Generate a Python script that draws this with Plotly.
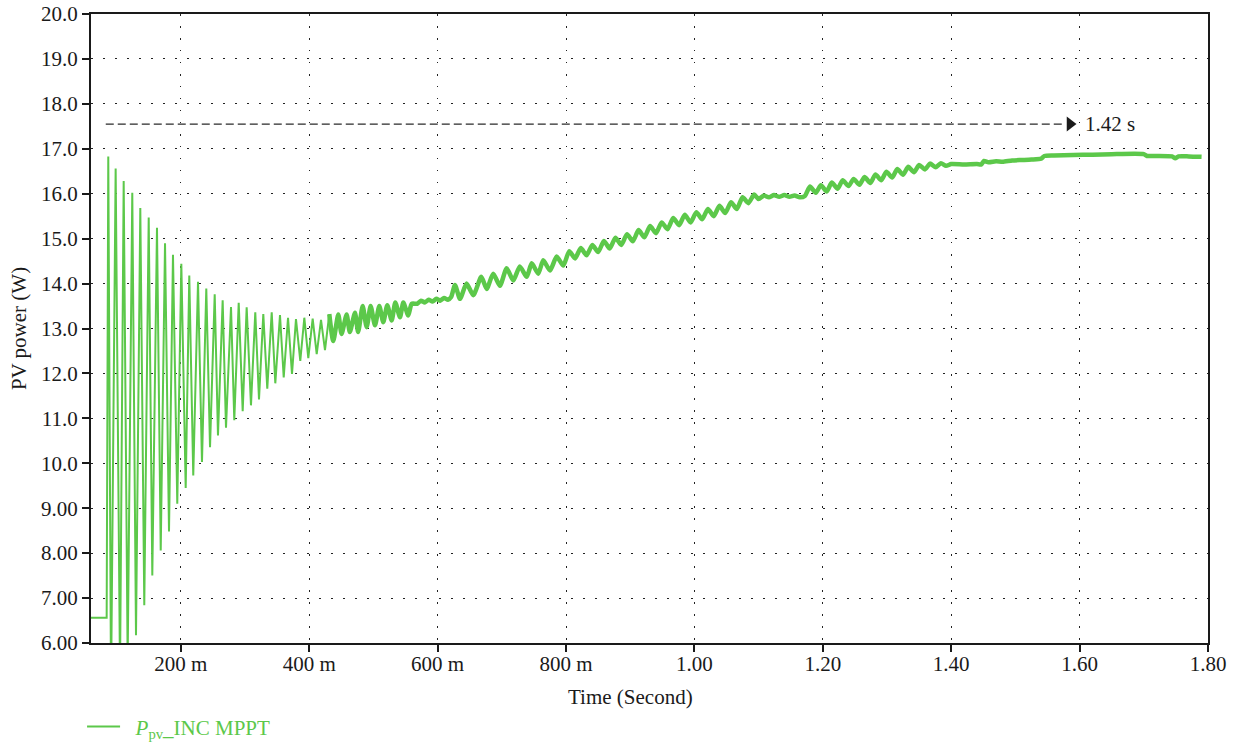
import plotly.graph_objects as go

# ---- PV power trace, INC MPPT (time in ms, power in W) ----
# start-up transient: step then large decaying oscillation (peaks / troughs)
t_start_ms = [60, 84.4, 86.9, 91.2, 98.4, 105.2, 110.9, 117.1, 124.3, 130.1,
              136.8, 143.0, 149.9, 155.5, 162.8, 168.6, 175.3, 181.5, 187.7, 194.4,
              200.7, 207.5, 213.1, 219.3, 226.7, 232.9, 239.6, 245.4, 252.7, 257.8,
              265.1, 270.3, 278.1, 283.2, 290.1, 296.3, 302.5, 309.2, 315.9, 321.7,
              328.4, 334.6, 341.5, 347.1, 354.4, 360.2, 366.9, 373.1, 379.3, 386.0,
              392.3, 398.5, 405.3, 411.6, 418.3, 424.5, 431.2, 437.4]
p_start_w = [6.56, 6.56, 16.83, 5.0, 16.56, 5.3, 16.28, 5.6, 16.02, 6.17,
             15.68, 6.84, 15.47, 7.50, 15.24, 8.06, 14.90, 8.48, 14.64, 9.10,
             14.44, 9.45, 14.18, 9.73, 14.04, 10.03, 13.89, 10.36, 13.76, 10.62,
             13.63, 10.79, 13.48, 10.96, 13.57, 11.16, 13.47, 11.29, 13.36, 11.42,
             13.32, 11.66, 13.36, 11.78, 13.30, 11.91, 13.24, 11.99, 13.21, 12.28,
             13.24, 12.34, 13.22, 12.43, 13.19, 12.52, 13.32, 12.70]

# slow climb towards the maximum power point
t_climb_ms = [431.2, 437.4, 445.2, 450.3, 458.2, 463.2, 471.2, 476.1, 483.2, 489.4,
              495.6, 502.4, 509.1, 515.3, 521.5, 528.4, 534.0, 541.3, 546.5, 554.2,
              559.5, 568, 574, 580, 586, 592, 598, 604, 610, 616,
              621, 627, 634.8, 645, 655.5, 668, 676.4, 686.5, 697, 707.5,
              717.8, 728, 738.7, 746.5, 756.7, 764.5, 775, 785.4, 795.7, 805,
              814, 823, 832, 841, 850, 859, 868, 877, 886, 895,
              904, 913, 922, 931, 940, 949, 958, 967, 976, 985,
              994, 1003, 1012, 1021, 1030, 1039, 1048, 1057, 1066, 1075,
              1084, 1093, 1100, 1108, 1116, 1124, 1132, 1140, 1148, 1156,
              1164, 1172, 1180, 1189, 1197, 1206, 1214, 1223, 1231, 1240,
              1248, 1257, 1265, 1274, 1282, 1291, 1299, 1308, 1316, 1325,
              1333, 1342, 1350, 1359, 1367, 1376, 1384, 1392, 1400, 1420,
              1440, 1447, 1451, 1458, 1470, 1480, 1495, 1510, 1525, 1540,
              1545, 1560, 1590, 1620, 1650, 1700, 1705, 1720, 1744, 1749,
              1754, 1770, 1790]
p_climb_w = [13.32, 12.72, 13.31, 12.88, 13.31, 12.92, 13.35, 12.92, 13.50, 13.03,
             13.50, 13.07, 13.50, 13.14, 13.52, 13.18, 13.58, 13.25, 13.58, 13.29,
             13.55, 13.55, 13.62, 13.58, 13.64, 13.60, 13.66, 13.62, 13.68, 13.64,
             13.70, 13.97, 13.66, 14.00, 13.74, 14.15, 13.88, 14.22, 13.95, 14.34,
             14.07, 14.38, 14.15, 14.45, 14.22, 14.52, 14.29, 14.60, 14.40, 14.72,
             14.56, 14.79, 14.63, 14.86, 14.70, 14.95, 14.78, 15.02, 14.86, 15.10,
             14.94, 15.19, 15.03, 15.28, 15.12, 15.36, 15.21, 15.46, 15.30, 15.53,
             15.36, 15.59, 15.43, 15.66, 15.50, 15.73, 15.57, 15.81, 15.66, 15.92,
             15.79, 15.98, 15.88, 15.96, 15.92, 15.97, 15.93, 15.97, 15.93, 15.96,
             15.92, 15.95, 16.16, 16.02, 16.19, 16.05, 16.25, 16.11, 16.30, 16.17,
             16.33, 16.20, 16.37, 16.24, 16.43, 16.30, 16.49, 16.36, 16.55, 16.42,
             16.60, 16.48, 16.64, 16.54, 16.67, 16.59, 16.68, 16.62, 16.66, 16.65,
             16.66, 16.65, 16.73, 16.70, 16.72, 16.71, 16.74, 16.75, 16.76, 16.78,
             16.84, 16.85, 16.86, 16.87, 16.88, 16.88, 16.84, 16.84, 16.83, 16.79,
             16.83, 16.83, 16.82]

# axis ticks
x_tick_vals = [0.2, 0.4, 0.6, 0.8, 1.0, 1.2, 1.4, 1.6, 1.8]
x_tick_text = ["200 m", "400 m", "600 m", "800 m", "1.00", "1.20", "1.40", "1.60", "1.80"]
y_tick_vals = [6, 7, 8, 9, 10, 11, 12, 13, 14, 15, 16, 17, 18, 19, 20]
y_tick_text = ["6.00", "7.00", "8.00", "9.00", "10.0", "11.0", "12.0", "13.0",
               "14.0", "15.0", "16.0", "17.0", "18.0", "19.0", "20.0"]

# settling-time marker
marker_level_w = 17.55
marker_from_s = 0.083
marker_to_s = 1.576
marker_label = "1.42 s"

GREEN = "#5cc84a"
INK = "#1a1a1a"
FONT = "Liberation Serif"
FS = 21

fig = go.Figure()

fig.add_trace(go.Scatter(
    x=[t / 1000 for t in t_start_ms], y=p_start_w, mode="lines",
    line=dict(color=GREEN, width=2),
    name="&nbsp;&nbsp;<i>P</i><sub>pv</sub>_INC MPPT", showlegend=True, hoverinfo="skip",
))
fig.add_trace(go.Scatter(
    x=[t / 1000 for t in t_climb_ms], y=p_climb_w, mode="lines",
    line=dict(color=GREEN, width=4.5, shape="spline", smoothing=0.6),
    showlegend=False, hoverinfo="skip",
))

# dashed arrow with label
fig.add_trace(go.Scatter(
    x=[marker_from_s, marker_to_s], y=[marker_level_w, marker_level_w], mode="lines",
    line=dict(color="#2a2a2a", width=1.3, dash="8px,4px"),
    showlegend=False, hoverinfo="skip",
))
fig.add_trace(go.Scatter(
    x=[marker_to_s + 0.009], y=[marker_level_w], mode="markers",
    marker=dict(symbol="triangle-right", size=13, color="#1a1a1a", line=dict(width=0)),
    showlegend=False, hoverinfo="skip",
))
fig.add_annotation(
    x=1.605, y=marker_level_w, text=marker_label, showarrow=False,
    xanchor="left", yanchor="middle", font=dict(family=FONT, size=FS, color=INK),
)

# x-axis title, set slightly left of the plot centre
fig.add_annotation(
    xref="paper", yref="paper", x=0.4834, y=-0.0858, text="Time (Second)",
    showarrow=False, xanchor="center", yanchor="middle",
    font=dict(family=FONT, size=FS, color=INK),
)

axis_common = dict(
    ticks="outside", ticklen=7, tickwidth=2, tickcolor=INK,
    showline=True, linewidth=2, linecolor=INK, mirror=True,
    showgrid=True, gridcolor="#222222", gridwidth=1.3, griddash="1.5px,10.5px",
    zeroline=False, tickfont=dict(family=FONT, size=FS, color=INK),
)

fig.update_xaxes(
    range=[0.06, 1.80], tickmode="array", tickvals=x_tick_vals, ticktext=x_tick_text,
    ticklabelstandoff=-6,
    **axis_common,
)
fig.update_yaxes(
    range=[6, 20], tickmode="array", tickvals=y_tick_vals, ticktext=y_tick_text,
    ticklabelstandoff=0,
    title=dict(text="PV power (W)", font=dict(family=FONT, size=FS, color=INK), standoff=9),
    **axis_common,
)

fig.update_layout(
    width=1235, height=742, autosize=False,
    margin=dict(l=91, r=27, t=14, b=99, autoexpand=False),
    plot_bgcolor="white", paper_bgcolor="white",
    font=dict(family=FONT, size=FS, color=INK),
    legend=dict(
        orientation="h", x=-0.008, y=-0.1335, xanchor="left", yanchor="middle",
        font=dict(family=FONT, size=FS, color=GREEN), bgcolor="rgba(0,0,0,0)",
        itemwidth=33,
    ),
)

fig.write_html("out.html")
